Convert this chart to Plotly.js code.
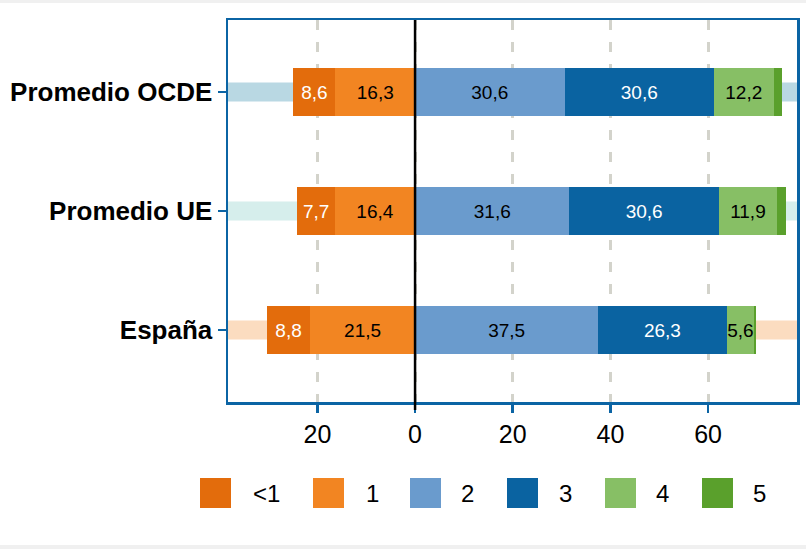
<!DOCTYPE html>
<html>
<head>
<meta charset="utf-8">
<script src="https://cdn.plot.ly/plotly-3.0.1.min.js"></script>
<style>
  html, body { margin: 0; padding: 0; background: #f0f0f0; }
  #chart { position: absolute; left: 0; top: 3px; width: 806px; height: 542px; background: #ffffff; }
</style>
</head>
<body>
<div id="chart"></div>
<script>
// ---- data ----
const categories = ["España", "Promedio UE", "Promedio OCDE"];
const levels = ["<1", "1", "2", "3", "4", "5"];
const valLt1 = [8.8, 7.7, 8.6];
const val1 = [21.5, 16.4, 16.3];
const val2 = [37.5, 31.6, 30.6];
const val3 = [26.3, 30.6, 30.6];
const val4 = [5.6, 11.9, 12.2];
const val5 = [0.4, 1.8, 1.8];
const xTickVals = [-20, 0, 20, 40, 60];
const xTickText = ["20", "0", "20", "40", "60"];

// ---- styles ----
const colors = {"<1": "#e36c0c", "1": "#f28522", "2": "#6a9bcd", "3": "#0a63a1", "4": "#87bf65", "5": "#5aa02c"};
const textColors = {"<1": "#ffffff", "1": "#000000", "2": "#000000", "3": "#ffffff", "4": "#000000", "5": "#000000"};
const bandColors = ["#fbdcc0", "#d6eeec", "#b9d8e3"];
const frameColor = "#0b64a4";
const FONT = "Liberation Sans, Arial, sans-serif";

const fmt = v => v.toFixed(1).replace(".", ",");

function barTrace(name, vals, sign, showText) {
  return {
    type: "bar",
    orientation: "h",
    name: name,
    y: categories,
    x: vals.map(v => sign * v),
    text: showText ? vals.map(fmt) : vals.map(() => ""),
    textposition: "inside",
    insidetextanchor: "middle",
    constraintext: "none",
    textangle: 0,
    textfont: {family: FONT, size: 19, color: textColors[name]},
    marker: {color: colors[name], line: {width: 0}},
    width: 0.4,
    hoverinfo: "skip",
    showlegend: false
  };
}

// negative side: "1" nearest zero, "<1" outermost
const data = [
  barTrace("1", val1, -1, true),
  barTrace("<1", valLt1, -1, true),
  barTrace("2", val2, 1, true),
  barTrace("3", val3, 1, true),
  barTrace("4", val4, 1, true),
  barTrace("5", val5, 1, false)
];

// plot area geometry in px (within the div)
const W = 806, H = 542;
const M = {l: 228, r: 9, t: 17, b: 143};
const PW = W - M.l - M.r, PH = H - M.t - M.b;
const px2x = px => (px - M.l) / PW;
const py2y = py => (H - M.b - py) / PH;

const shapes = [];
// light background bands behind each bar
categories.forEach((c, i) => {
  shapes.push({type: "rect", layer: "below", xref: "paper", yref: "y",
    x0: 0, x1: 1, y0: i - 0.08, y1: i + 0.08,
    fillcolor: bandColors[i], line: {width: 0}});
});
// zero line (extends down to tick)
shapes.push({type: "line", layer: "above", xref: "x", yref: "paper",
  x0: 0, x1: 0, y0: -8 / PH, y1: 1, line: {color: "#000000", width: 2.5}});

// custom legend
const annotations = [];
const legSqX = [200, 313, 410, 507, 605, 702];
const legTxtX = [251, 364, 459, 557, 654, 751];
levels.forEach((lv, i) => {
  shapes.push({type: "rect", xref: "paper", yref: "paper",
    x0: px2x(legSqX[i]), x1: px2x(legSqX[i] + 31),
    y0: py2y(505), y1: py2y(475),
    fillcolor: colors[lv], line: {width: 0}});
  annotations.push({xref: "paper", yref: "paper", x: px2x(legTxtX[i]), y: py2y(490),
    xanchor: "left", yanchor: "middle", showarrow: false, text: lv,
    font: {family: FONT, size: 24, color: "#000000"}});
});

const layout = {
  width: W, height: H,
  margin: M,
  paper_bgcolor: "#ffffff",
  plot_bgcolor: "#ffffff",
  barmode: "relative",
  bargap: 0,
  showlegend: false,
  font: {family: FONT, color: "#000000"},
  xaxis: {
    range: [-38.3, 78.2],
    tickvals: xTickVals,
    ticktext: xTickText,
    tickfont: {family: FONT, size: 25, color: "#000000"},
    ticks: "outside", ticklen: 8, tickwidth: 2.5, tickcolor: frameColor,
    showgrid: true, gridcolor: "#d3d3cb", gridwidth: 3, griddash: "10px,12px",
    zeroline: false,
    showline: true, linecolor: frameColor, linewidth: 2.5, mirror: true,
    fixedrange: true
  },
  yaxis: {
    categoryorder: "array", categoryarray: categories,
    range: [-0.605, 2.605],
    tickfont: {family: FONT, size: 26, color: "#000000", weight: "bold"},
    ticks: "outside", ticklen: 8, tickwidth: 2.5, tickcolor: frameColor,
    showgrid: false, zeroline: false,
    showline: true, linecolor: frameColor, linewidth: 2.5, mirror: true,
    fixedrange: true
  },
  shapes: shapes,
  annotations: annotations
};

Plotly.newPlot("chart", data, layout, {displayModeBar: false, staticPlot: true});
</script>
</body>
</html>
